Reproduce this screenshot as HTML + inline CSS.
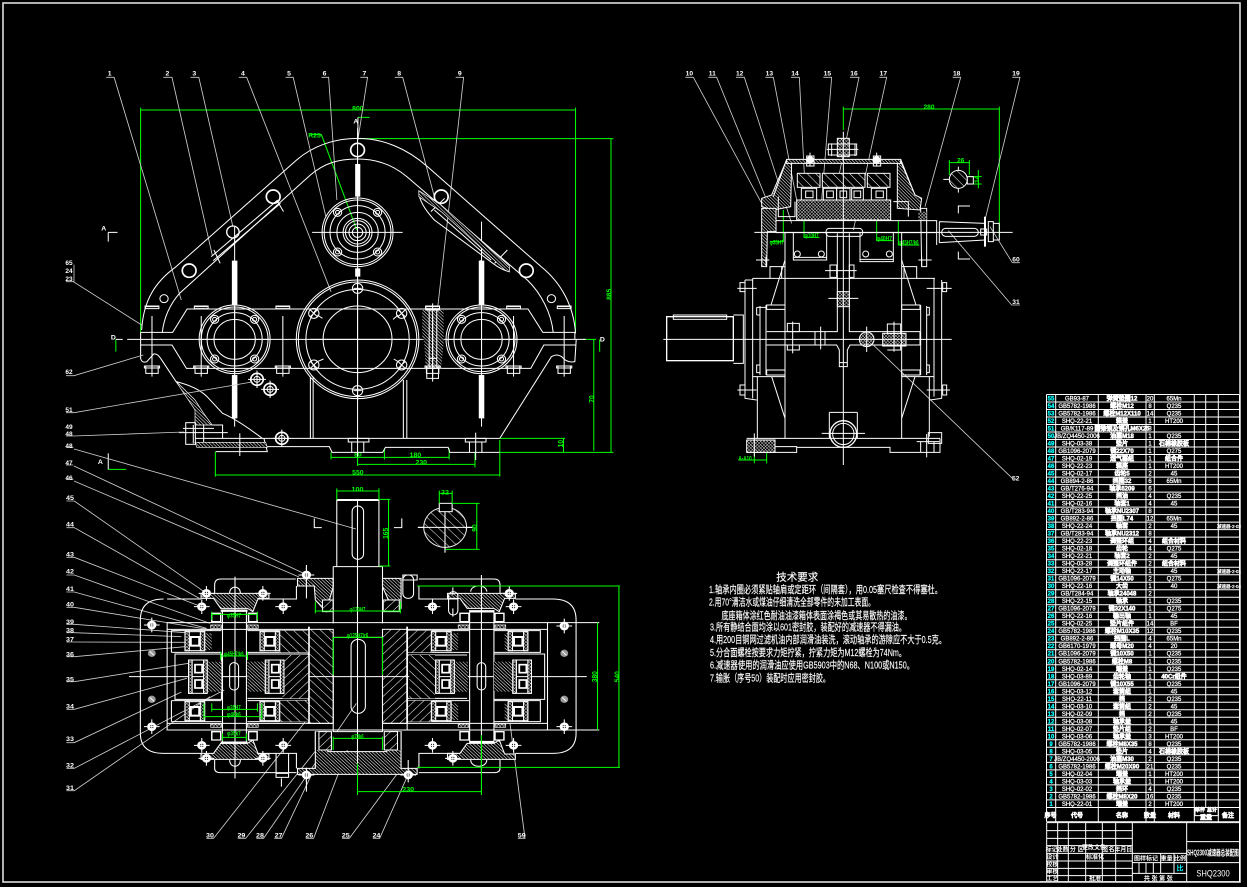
<!DOCTYPE html>
<html><head><meta charset="utf-8"><style>
html,body{margin:0;padding:0;background:#000}
svg{display:block}
.w{fill:none;stroke:#fff;stroke-width:3}
.s{stroke:#fff;stroke-width:3}
.g{fill:none;stroke:#0f0;stroke-width:3}
.l{fill:none;stroke:#ccc;stroke-width:2.5}
.t{font:bold 20px "Liberation Sans","Noto Sans CJK SC",sans-serif;fill:#fff;stroke:none;text-anchor:middle}
.u{font:bold 20px "Liberation Sans","Noto Sans CJK SC",sans-serif;fill:#0f0;stroke:none;text-anchor:middle}
.tb{font:6px "Liberation Sans","WenQuanYi Zen Hei",sans-serif;fill:#fff;stroke:#fff;stroke-width:.25;text-anchor:middle}
.tb .c{fill:#0ff;stroke:#0ff;font-weight:bold}
.tb .b{font-weight:bold;stroke-width:.5}
.r{font:10.5px "Liberation Sans","WenQuanYi Zen Hei",sans-serif;fill:#fff;stroke:#fff;stroke-width:.15}
</style></head><body>
<svg width="1247" height="887" viewBox="0 0 1247 887" xmlns="http://www.w3.org/2000/svg">
<defs>
<pattern id="h1" width="18" height="18" patternUnits="userSpaceOnUse" patternTransform="rotate(45)"><rect width="18" height="18" fill="#000"/><path d="M0 0H18" stroke="#fff" stroke-width="3"/></pattern>
<pattern id="h2" width="18" height="18" patternUnits="userSpaceOnUse" patternTransform="rotate(-45)"><rect width="18" height="18" fill="#000"/><path d="M0 0H18" stroke="#fff" stroke-width="3"/></pattern>
<pattern id="d1" width="7" height="7" patternUnits="userSpaceOnUse" patternTransform="rotate(45)"><rect width="7" height="7" fill="#000"/><path d="M0 0H7" stroke="#fff" stroke-width="3"/></pattern>
<pattern id="x1" width="7" height="7" patternUnits="userSpaceOnUse" patternTransform="rotate(45)"><rect width="7" height="7" fill="#000"/><path d="M0 0H7M0 0V7" stroke="#ddd" stroke-width="2.5"/></pattern>
<g id="cv" class="w"><circle r="103"/><circle r="97"/><circle r="80"/><circle r="60"/>
<g id="cb"><circle cx="-58" cy="-60" r="12"/><circle cx="-58" cy="-60" r="6"/><circle cx="58" cy="-60" r="12"/><circle cx="58" cy="-60" r="6"/><circle cx="-58" cy="59" r="12"/><circle cx="-58" cy="59" r="6"/><circle cx="58" cy="59" r="12"/><circle cx="58" cy="59" r="6"/></g></g>
<g id="fb" class="w"><path d="M0-62V120M-18-90V-90M-18-90H18M-20-92H20V-84H-20ZM-18-84V-84M-18 88H18V110H-18ZM-22 88H22V94H-22Z"/></g>
<g id="nut" class="w"><circle r="18" stroke-width="5"/><circle r="9"/><path d="M-26 0H26M0-26V26"/></g>
<g id="sn"><circle r="11" fill="#999"/><path d="M-6-6L6 6" stroke="#fff" stroke-width="3"/></g>
<g id="bn"><circle r="13" fill="#fff"/><circle r="5" fill="#000"/><path d="M-22 0H22M0-22V22" stroke="#fff" stroke-width="3"/></g>
<g id="br" class="w"><rect width="55" height="57" stroke-width="3"/><rect x="0" y="0" width="12" height="57" fill="url(#x1)"/><rect x="43" y="0" width="12" height="57" fill="url(#x1)"/><rect x="16" y="16" width="24" height="26" stroke-width="6"/></g>
<g id="bd" class="w"><rect width="52" height="100"/><rect width="10" height="100" fill="url(#x1)"/><rect x="42" width="10" height="100" fill="url(#x1)"/><rect x="18" y="14" width="20" height="24" stroke-width="5"/><rect x="18" y="60" width="20" height="24" stroke-width="5"/></g>
</defs>
<rect x="3" y="3" width="1237" height="879" fill="none" stroke="#ddd" stroke-width="1.6"/>

<!-- FRONT VIEW -->
<g transform="translate(90 60) scale(.34435 .33333)">
<g class="g">
<path d="M147 150H1410M147 143V820M1410 143V820M780 236H1520M1513 236V1177M1190 1177H1520M1463 840V1172M1375 1135V1177M1190 1135H1380M1430 838H1470M700 1192H1043M777 1213H1118M364 1245H1190M364 1175V1250M1190 1140V1250M777 1177V1218M1118 1177V1222M700 1177V1198M855 1165V1198M1043 1165V1198M640 224H672L775 510M778 172H812M75 838V875M1480 838V875M53 1228H105"/>
</g>
<text class="u" x="778" y="151">800</text><text class="u" x="652" y="232">R25</text><text class="u" x="1507" y="710" transform="rotate(-90 1507 703)">885</text><text class="u" x="1456" y="1024" transform="rotate(-90 1456 1017)">70</text><text class="u" x="1366" y="1158" transform="rotate(-90 1366 1151)">10</text><text class="u" x="778" y="1190">80</text><text class="u" x="945" y="1191">180</text><text class="u" x="962" y="1214">230</text><text class="u" x="778" y="1244">550</text>
<g class="l"><path d="M47 52H70L265 720M213 52H238L355 585M292 52H316L415 500M432 52H455L700 695M568 52H590L685 470M672 52H693L717 420M785 52H806L778 240M885 52H908L1000 410M1062 52H1085L1010 740"/></g>
<text class="t" x="57" y="47">1</text><text class="t" x="225" y="47">2</text><text class="t" x="303" y="47">3</text><text class="t" x="444" y="47">4</text><text class="t" x="578" y="47">5</text><text class="t" x="681" y="47">6</text><text class="t" x="797" y="47">7</text><text class="t" x="898" y="47">8</text><text class="t" x="1074" y="47">9</text>
<text class="t" x="772" y="190">A</text><text class="t" x="40" y="512">A</text><text class="t" x="68" y="838">D</text><text class="t" x="1488" y="845">D</text><text class="t" x="30" y="1212">A</text>
<g class="w">
<path d="M778 172V235M53 517H80M53 517V545M53 1180V1228M75 838H95"/>
<path d="M150 810C155 720 190 665 250 620L600 300C650 255 715 235 777 235C850 235 920 265 980 320L1310 620C1370 670 1405 740 1410 820"/>
<path d="M210 817C215 770 235 730 260 700L640 345C680 310 720 297 777 297C830 297 880 315 920 350L1270 660C1310 700 1340 760 1345 817"/>
<path d="M108 838H1440"/>
<path d="M147 817H240L282 747H1272L1315 817H1408V838M147 817V838M147 855H238L280 925H1280L1318 855H1410M147 838V895Q150 910 165 905L185 882Q195 880 205 895L250 965Q310 980 340 1010L385 1060Q430 1080 500 1135M1412 838L1408 905Q1385 910 1370 890Q1355 880 1340 890L1190 1135"/>
<path d="M500 1135H1190M305 1135H505L515 1175H365M515 1160H695L703 1177H850L858 1162H1040L1045 1177H1190"/>
<path d="M420 500V1100M1137 485V1100M777 205V1190M645 517H908"/>
<path d="M640 950V1135M648 950V1135M910 960V1135M920 960V1135"/>
<path d="M270 1105H360M300 1095V1150M330 1095V1150M355 1095H385L385 1135"/>
<path d="M352 590L545 420M358 602L553 430"/>
<path d="M955 395Q955 430 1000 480L1170 610Q1195 630 1218 635"/>
<path d="M1000 450L1165 600M545 425L562 455M360 570L378 610M990 455L1030 415M1175 610L1212 570"/>
<path d="M1135 600V735M420 945V1075M777 312V410M777 625V650"/>
</g>
<path d="M412 602H428V735H412ZM412 945H428V1075H412ZM1129 602H1145V735H1129ZM1129 945H1145V1075H1129ZM770 312H785V410H770ZM770 625H785V650H770Z" fill="#fff"/>
<path d="M955 392L1020 435L1218 618V636L1205 630L1020 455L955 410Z" fill="url(#d1)" stroke="#fff" stroke-width="2"/>
<path d="M248 962L305 1050V1095H355L330 1060L305 1020Z" fill="url(#d1)" stroke="#fff" stroke-width="2"/>
<path d="M305 1147H510L515 1162H310Z" fill="url(#d1)" stroke="#fff" stroke-width="2"/>
<rect x="965" y="750" width="62" height="88" fill="url(#d1)"/><path d="M970 838H1028L1020 925H975Z" fill="url(#d1)"/>
<g class="w">
<path d="M985 750V925M1007 750V925M975 738H1015V750H975ZM995 730V965M978 925H1012V955H978ZM985 895H1007"/>
<circle cx="777" cy="270" r="20" stroke-width="5"/><circle cx="532" cy="410" r="20" stroke-width="5"/><circle cx="415" cy="516" r="18" stroke-width="4"/><circle cx="288" cy="632" r="20" stroke-width="5"/><circle cx="215" cy="716" r="12"/><circle cx="1020" cy="410" r="20" stroke-width="5"/><circle cx="1267" cy="632" r="20" stroke-width="5"/><circle cx="1340" cy="716" r="12"/>
<circle cx="777" cy="838" r="178"/><circle cx="777" cy="838" r="172"/><circle cx="777" cy="838" r="150"/><circle cx="777" cy="838" r="100"/>
<path d="M777 660V1020M640 838H920"/>
<circle cx="777" cy="685" r="15"/><circle cx="650" cy="760" r="15"/><circle cx="905" cy="760" r="15"/><circle cx="650" cy="915" r="15"/><circle cx="905" cy="915" r="15"/><circle cx="777" cy="992" r="15"/>
<path d="M640 750L660 770M660 750L640 770M895 750L915 770M915 750L895 770M640 905L660 925M660 905L640 925M895 905L915 925M915 905L895 925M765 685H789M765 992H789M660 765L675 775M895 765L880 778M660 905L678 897M895 905L882 897"/>
</g>
<use href="#cv" x="420" y="838"/><use href="#cv" x="1137" y="838"/><use href="#cv" x="777" y="517"/>
<g class="w"><circle cx="777" cy="517" r="35"/><circle cx="777" cy="517" r="25"/><circle cx="777" cy="517" r="15"/><circle cx="777" cy="517" r="42"/><path d="M420 738V940M318 838H522M1137 738V940M1035 838H1240"/></g>
<use href="#fb" x="180" y="830"/><use href="#fb" x="323" y="830"/><use href="#fb" x="560" y="830"/><use href="#fb" x="1230" y="830"/><use href="#fb" x="1377" y="830"/>
<use href="#fb" x="995" y="830"/>
<use href="#nut" x="485" y="958"/><use href="#nut" x="523" y="988"/><use href="#nut" x="557" y="1135"/>
<g class="w"><rect x="278" y="1088" width="28" height="65"/><path d="M258 1118H400M435 1120V1188M1120 1118V1200M750 1135H810V1146H750ZM1090 1135H1150V1146H1090ZM760 1146V1177M795 1146V1177M1102 1146V1177M1138 1146V1177"/></g>
</g>

<!-- lower-left labels -->
<g class="l" transform="translate(60 250) scale(.33333)">
<path d="M18 95H40L245 225M18 377H42L250 315M18 488H42L576 396M18 558H40L372 546M18 592H40M18 645H40M18 688H40M42 44V95"/>
</g>
<g class="t" style="font-size:6.5px"><text x="69" y="265">65</text><text x="69" y="273">24</text><text x="69" y="281">23</text><text x="69" y="374">62</text><text x="69" y="412">51</text><text x="69" y="429">49</text><text x="69" y="436">48</text><text x="69" y="448">48</text><text x="69" y="465">47</text><text x="69" y="480">46</text></g>
<path d="M74 449L356 529M74 466L303 573M74 481L299 577" stroke="#ccc" stroke-width=".85" fill="none"/>

<!-- SIDE VIEW -->
<g transform="translate(660 60) scale(.33333)">
<g class="g"><path d="M550 147H1018M550 140V210M1018 140V530M868 308H928M868 300V345M928 300V345M925 350H965M925 372H965M955 330V385M370 450V545H330M432 430V532H478M650 385V542H698M715 480V555H778M235 1200H320M283 1170V1210M320 1170V1210"/></g>
<text class="u" x="807" y="147">280</text><text class="u" x="902" y="308">26</text><text class="u" x="950" y="365" transform="rotate(-90 950 358)">14</text><text class="u" x="350" y="553" textLength="42" lengthAdjust="spacingAndGlyphs">φ35H7</text><text class="u" x="455" y="533" textLength="42" lengthAdjust="spacingAndGlyphs">φ10H7</text><text class="u" x="673" y="541" textLength="46" lengthAdjust="spacingAndGlyphs">φ40H7</text><text class="u" x="746" y="553" textLength="60" lengthAdjust="spacingAndGlyphs">φ45H7/k6</text><text class="u" x="255" y="1202" textLength="40" lengthAdjust="spacingAndGlyphs">A-A10</text>
<g class="l"><path d="M76 52H100L305 430M145 52H170L320 420M228 52H253L395 490M316 52H340L410 420M393 52H418L437 420M490 52H515L485 420M570 52H597L530 380M658 52H680L580 510M878 52H902L795 440M1057 52H1080L975 480M1057 608H1080V608M1057 608L990 500M1080 735H1055L865 512M1060 1258L640 855"/></g>
<g><text class="t" x="88" y="47">10</text><text class="t" x="157" y="47">11</text><text class="t" x="239" y="47">12</text><text class="t" x="328" y="47">13</text><text class="t" x="405" y="47">14</text><text class="t" x="502" y="47">15</text><text class="t" x="582" y="47">16</text><text class="t" x="670" y="47">17</text><text class="t" x="890" y="47">18</text><text class="t" x="1068" y="47">19</text><text class="t" x="1068" y="604">60</text><text class="t" x="1068" y="732">31</text><text class="t" x="1067" y="1262">52</text></g>
<path d="M378 304H395L392 440L340 450L305 440V415L335 405Z" fill="url(#d1)" stroke="#fff" stroke-width="3"/>
<path d="M722 304H712V445L780 450L785 415L765 405Z" fill="url(#d1)" stroke="#fff" stroke-width="3"/>
<path d="M380 298H722V310H380Z" fill="url(#d1)" stroke="#fff" stroke-width="3"/>
<rect x="412" y="340" width="68" height="42" fill="url(#h1)" class="s"/><rect x="487" y="340" width="128" height="42" fill="url(#h1)" class="s"/><rect x="622" y="340" width="68" height="42" fill="url(#h1)" class="s"/>
<rect x="410" y="420" width="282" height="60" fill="url(#x1)" class="s"/>
<rect x="424" y="385" width="46" height="35" class="s" fill="#000"/><rect x="490" y="385" width="40" height="35" class="s" fill="#000"/><rect x="530" y="385" width="40" height="35" class="s" fill="#000"/><rect x="575" y="385" width="35" height="35" class="s" fill="#000"/><rect x="634" y="385" width="46" height="35" class="s" fill="#000"/>
<rect x="437" y="393" width="22" height="20" class="w" stroke-width="5"/><rect x="500" y="393" width="20" height="20" class="w"/><rect x="540" y="393" width="20" height="20" class="w"/><rect x="582" y="393" width="20" height="20" class="w"/><rect x="648" y="393" width="22" height="20" class="w"/>
<path d="M305 445H348V515H322L320 620H305Z" fill="url(#d1)" stroke="#fff" stroke-width="3"/>
<path d="M782 445H800V620H785Z" fill="#000" stroke="#fff" stroke-width="3"/>
<rect x="532" y="235" width="36" height="55" fill="url(#x1)" class="s"/>
<rect x="532" y="695" width="36" height="45" fill="url(#x1)" class="s"/>
<circle cx="620" cy="838" r="22" fill="url(#x1)" class="s"/>
<rect x="668" y="820" width="70" height="38" fill="url(#x1)" class="s"/>
<rect x="260" y="1140" width="85" height="37" fill="url(#x1)" class="s"/>
<rect x="775" y="455" width="25" height="25" fill="url(#x1)"/>
<g class="w">
<path d="M283 517H1058M550 215V1215M10 838H875"/>
<path d="M347 482H830V555M347 518H830M838 485L975 490M838 548L975 540M838 485V548M348 480V517M380 298L340 410M722 298L765 405M355 410V470H405V425M745 470V425H700"/>
<rect x="845" y="505" width="110" height="24" rx="12"/>
<rect x="498" y="505" width="110" height="24" rx="10"/>
<path d="M975 470V560" stroke-width="6"/><path d="M985 485H1000V545H985ZM1000 490H1018V540H1000ZM962 507H980V525H962Z"/>
<path d="M505 252H590V285H505ZM515 250V288M585 250V288M500 268H595M440 288H462V318H440ZM640 288H662V318H640ZM450 278V320M650 278V320"/>
<circle cx="450" cy="300" r="10" fill="#fff"/><circle cx="650" cy="300" r="10" fill="#fff"/>
<path d="M375 518V1135M725 518V1135M400 518V600H500V518M600 518V605H700V518M400 592H500M600 598H700"/>
<circle cx="412" cy="582" r="9"/><circle cx="484" cy="582" r="9"/><circle cx="617" cy="582" r="9"/><circle cx="688" cy="582" r="9"/>
<path d="M532 520V815H320M568 520V815H780M320 855H530L538 870V920H562V870L570 855H780M538 908H562"/>
<rect x="20" y="770" width="200" height="132" stroke-width="4"/><rect x="40" y="765" width="160" height="13"/>
<path d="M220 765H250V910H220M278 655H825M278 655V1015M255 660H278M255 660V1015L290 1020M292 950V1135M278 950H375M318 735V945M300 738V945M290 742H318M290 765H300M290 742V765M290 915H300V938H290Z"/>
<path d="M330 620H375M330 620V655M365 620V655M725 620H770V655M732 620V655M288 600H328M318 590V618M775 600H815M785 590V618M232 685H290M240 668H255V695H240ZM800 685H875M848 668H860V695H848ZM232 990H290M240 975H255V1005H240ZM800 990H870M848 975H860V1005H848Z"/>
<path d="M375 600L333 735M725 600L768 735M335 950L375 1075M765 950L725 1075"/>
<path d="M320 735H375V748H320ZM725 735H780V748H725ZM320 930H375V945H320ZM725 930H780V945H725Z"/>
<path d="M782 735V945M800 738V945M822 655V1010M845 660V1015L810 1020M808 950V1130M725 950H822M800 742H808V765H800M800 915H808V938H800M318 815V855M780 815V855"/>
<path d="M260 1135H840M345 1160H410V1177H260M410 1162H690V1177H840V1135M805 1118H845V1150H805ZM800 1122V1192M770 1145H838M782 1145V1177M822 1145V1177M283 1120V1190"/>
<path d="M508 1057H592M508 1057V1135M592 1057V1135M485 1120H615"/>
<circle cx="550" cy="1122" r="40" stroke-width="4"/><circle cx="550" cy="1122" r="32"/>
<path d="M382 790H418V815H382ZM398 785V880M382 855H418V870H382ZM465 815V855M495 815V855M482 800V868M682 792H722V820H682ZM702 785V875M682 858H722V870H682M620 800V876"/>
<path d="M510 615H530V652H510ZM495 632H590M568 615H582V652H568ZM505 715H595M330 618V620"/>
<path d="M895 460V438H930M895 575V597H930"/>
<path d="M850 358H940M895 320V398"/>
</g>
<circle cx="895" cy="358" r="27" fill="url(#h1)" stroke="#fff" stroke-width="3"/>
<rect x="922" y="350" width="18" height="22" fill="#000" stroke="#fff" stroke-width="3"/>
</g>

<!-- PLAN VIEW -->
<g transform="translate(60 480) scale(.35714 .33333)">
<g class="l"><path d="M18 63H40L410 340M18 143H40L390 355M18 232H40L395 380M18 285H40L420 430M18 336H40L410 445M18 382H40L425 450M18 433H40L350 458M18 458H40L340 470M18 486H40L350 487M18 530H40L350 500M18 605H40L360 550M18 688H40L355 595M18 788H40L340 636M18 865H40L460 630M18 932H40L420 650M410 1075H430L720 680M498 1075H520L740 780M550 1075H570L830 670M600 1075H620L750 780M688 1075H710L810 795M790 1075H810L945 880M876 1075H895L970 895M1282 1075H1302L1260 730"/></g>
<g>
<text class="t" x="28" y="60">45</text><text class="t" x="28" y="140">44</text><text class="t" x="28" y="229">43</text><text class="t" x="28" y="281">42</text><text class="t" x="28" y="333">41</text><text class="t" x="28" y="379">40</text><text class="t" x="28" y="432">39</text><text class="t" x="28" y="457">38</text><text class="t" x="28" y="484">37</text><text class="t" x="28" y="530">36</text><text class="t" x="28" y="604">35</text><text class="t" x="28" y="685">34</text><text class="t" x="28" y="783">33</text><text class="t" x="28" y="862">32</text><text class="t" x="28" y="930">31</text>
<text class="t" x="420" y="1072">30</text><text class="t" x="508" y="1072">29</text><text class="t" x="560" y="1072">28</text><text class="t" x="612" y="1072">27</text><text class="t" x="698" y="1072">26</text><text class="t" x="800" y="1072">25</text><text class="t" x="886" y="1072">24</text><text class="t" x="1293" y="1072">59</text>
</g>
<path d="M395 340H585V355H555L540 395L525 385H450L430 355H395Z" fill="url(#d1)" stroke="#fff" stroke-width="3"/>
<path d="M395 838H585V822H555L540 780L525 790H450L430 820H395Z" fill="url(#d1)" stroke="#fff" stroke-width="3"/>
<path d="M1085 340H1275V355H1245L1230 395L1215 385H1140L1120 355H1085Z" fill="url(#d1)" stroke="#fff" stroke-width="3"/>
<path d="M1085 838H1275V822H1245L1230 780L1215 790H1140L1120 820H1085Z" fill="url(#d1)" stroke="#fff" stroke-width="3"/>
<path d="M665 295H765V320L745 395L715 360L712 318H665Z" fill="url(#d1)" stroke="#fff" stroke-width="3"/>
<path d="M903 295H955V385L930 385L903 320Z" fill="url(#d1)" stroke="#fff" stroke-width="3"/>
<path d="M665 865H715V755H745L750 815H915L925 755H955V865H1000V883H665Z" fill="url(#d1)" stroke="#fff" stroke-width="3"/>
<rect x="715" y="755" width="240" height="55" fill="#000"/>
<path d="M735 360H765V395H735ZM905 360H950V395H905ZM725 755H760V810H725ZM908 755H945V810H908Z" fill="url(#h2)" stroke="#fff" stroke-width="3"/>
<rect x="695" y="448" width="70" height="282" fill="url(#h1)" class="s"/><rect x="903" y="448" width="69" height="282" fill="url(#h2)" class="s"/>
<g class="w">
<path d="M193 590H1475M833 60V885M490 290V895M1180 285V885"/>
<path d="M775 260V60H893V260" /><path d="M775 60H893" stroke-width="6"/>
<rect x="818" y="78" width="32" height="160" rx="16"/>
<path d="M765 260H903M765 260V430M903 260V430M1002 142H1155M1078 72V218"/>
<path d="M712 115V143H733M957 115V143H935"/>
<path d="M300 357H395M225 420Q225 357 290 357M225 420V760Q225 820 290 820H395M1445 420Q1445 357 1380 357H1275M1445 420V760Q1445 820 1380 820H1275M555 357H662V318M1005 318V357H1115M555 820H662V865M1005 865V820H1115"/>
<path d="M433 340V315Q433 297 450 297H660M1005 297H1215Q1232 297 1232 315V340M433 840V865Q433 878 450 878H662M1005 878H1215Q1232 878 1232 865V840"/>
<path d="M300 428H1365V750H300ZM300 448H695M970 448H1365M300 730H695M970 730H1365M1365 428H1510M1365 750H1510"/>
<path d="M312 452H452M312 517H452M312 452V517M312 662H452M312 725H452M312 662V725M322 522H452V658H322ZM525 452H692M525 517H692M525 662H692M525 725H692M525 522H695M525 655H695M972 452H1145M972 517H1145M972 525H1140M972 655H1140M972 662H1145M972 725H1145M1215 452H1345V517H1215M1215 662H1345V725H1215M1215 522H1357V658H1215"/>
<path d="M765 472H903M765 730V755H903V730M765 470V730M903 470V730M695 730H765V750H695M903 730H972V750H903M715 755V810M955 755V810"/>
<path d="M455 390V790M522 390V790M1147 390V790M1215 390V790"/>
<rect x="475" y="548" width="25" height="82" rx="12"/><rect x="1168" y="548" width="24" height="82" rx="12"/><rect x="815" y="478" width="40" height="222" rx="20"/>
<path d="M450 392H525" stroke-width="7"/><path d="M450 788H525" stroke-width="7"/><path d="M1147 394H1215" stroke-width="7"/><path d="M1147 786H1215" stroke-width="7"/>
<path d="M697 440V730" stroke-width="5"/><path d="M972 440V730" stroke-width="5"/>
<path d="M475 340C475 315 505 315 505 340M1150 335C1150 312 1195 312 1195 335M475 840C475 865 505 865 505 840M1150 840C1150 865 1195 865 1195 840"/>
<path d="M605 820V880H640V820M605 880V892H640V880M620 895V920M690 885V935M975 840V895M690 255V355"/>
<rect x="960" y="285" width="30" height="70" rx="14"/><path d="M960 285H1000V300H960Z"/>
<rect x="1088" y="335" width="26" height="70" rx="13"/><path d="M1100 322V345M1100 385V410"/>
</g>
<path d="M1078 82A60 60 0 1 0 1079 82" fill="url(#h1)" stroke="#fff" stroke-width="3" opacity=".9"/>
<path d="M1002 142H1155M1078 72V218" stroke="#fff" stroke-width="3"/>
<rect x="1062" y="70" width="36" height="25" fill="#000" stroke="#fff" stroke-width="3"/>
<g>
<rect x="615" y="452" width="80" height="65" fill="url(#h1)"/><rect x="623" y="525" width="72" height="130" fill="url(#h2)"/><rect x="615" y="662" width="80" height="63" fill="url(#h1)"/>
<rect x="975" y="452" width="65" height="65" fill="url(#h2)"/><rect x="978" y="525" width="72" height="130" fill="url(#h1)"/><rect x="975" y="662" width="65" height="63" fill="url(#h2)"/>
<rect x="410" y="545" width="42" height="90" fill="url(#d1)"/><rect x="525" y="545" width="50" height="90" fill="url(#d1)"/><rect x="1100" y="545" width="42" height="90" fill="url(#d1)"/><rect x="1215" y="545" width="52" height="90" fill="url(#d1)"/>
<rect x="405" y="460" width="20" height="50" fill="url(#d1)"/><rect x="1095" y="460" width="20" height="50" fill="url(#d1)"/><rect x="1245" y="460" width="15" height="50" fill="url(#d1)"/><rect x="1095" y="670" width="20" height="50" fill="url(#d1)"/><rect x="1245" y="670" width="15" height="50" fill="url(#d1)"/>
</g>
<use href="#br" x="350" y="455"/><use href="#br" x="560" y="455"/><use href="#br" x="350" y="665"/><use href="#br" x="560" y="665"/>
<use href="#br" x="1040" y="455"/><use href="#br" x="1255" y="455"/><use href="#br" x="1040" y="665"/><use href="#br" x="1255" y="665"/>
<use href="#bd" x="360" y="540"/><use href="#bd" x="575" y="540"/><use href="#bd" x="1052" y="540"/><use href="#bd" x="1268" y="540"/>
<path d="M422 435H452V445H422ZM525 435H555V445H525ZM422 732H452V742H422ZM525 732H555V742H525ZM1115 435H1145V445H1115ZM1218 435H1248V445H1218ZM1115 732H1145V742H1115ZM1218 732H1248V742H1218Z" fill="url(#x1)" stroke="#fff" stroke-width="2"/>
<path d="M425 400H450V425H425ZM528 400H552V425H528ZM425 755H450V780H425ZM528 755H552V780H528ZM1120 400H1145V425H1120ZM1218 400H1243V425H1218ZM1120 755H1145V780H1120ZM1218 755H1243V780H1218Z" fill="#000" stroke="#fff" stroke-width="4"/>
<use href="#bn" x="397" y="380"/><use href="#bn" x="397" y="796"/><use href="#bn" x="625" y="380"/><use href="#bn" x="625" y="796"/><use href="#bn" x="1043" y="380"/><use href="#bn" x="1043" y="796"/><use href="#bn" x="1270" y="380"/><use href="#bn" x="1270" y="796"/><use href="#bn" x="257" y="435"/><use href="#bn" x="257" y="740"/><use href="#bn" x="1412" y="438"/><use href="#bn" x="1412" y="740"/>
<use href="#sn" x="257" y="520"/><use href="#sn" x="257" y="658"/><use href="#sn" x="1412" y="520"/><use href="#sn" x="1412" y="658"/>
<use href="#bn" x="410" y="340"/><use href="#bn" x="568" y="340"/><use href="#bn" x="690" y="285"/><use href="#bn" x="1100" y="835"/><use href="#bn" x="1258" y="340"/><use href="#bn" x="410" y="835"/><use href="#bn" x="568" y="835"/><use href="#bn" x="690" y="885"/><use href="#bn" x="975" y="885"/>
<g class="g"><path d="M775 33H893M775 25V60M893 25V60M893 58H925M893 258H925M920 58V258M1062 40H1098M1062 32V70M1098 32V70M1098 70H1175M1080 208H1175M1167 70V208M425 403H553M425 395V420M553 395V420M450 528H525M450 515V540M525 515V540M715 393H953M715 365V400M953 365V400M765 472V585M903 472V585M765 472H903M425 688H553M425 670V695M553 670V695M403 710H565M403 670V718M565 670V718M455 772H522M455 760V782M522 760V782M765 775H903M765 770V810M903 770V810M833 935H1180M833 850V945M1180 765V945M1000 318H1568M1000 862H1568M1565 318V862M1505 428V750"/></g>
<g>
<text class="u" x="833" y="35">100</text><text class="u" x="912" y="167" transform="rotate(-90 912 160)">165</text><text class="u" x="1078" y="43">32</text><text class="u" x="1160" y="151" transform="rotate(-90 1160 144)">90</text>
<text class="u" x="487" y="413" textLength="40" lengthAdjust="spacingAndGlyphs">φ35H7</text><text class="u" x="487" y="528" textLength="55" lengthAdjust="spacingAndGlyphs">φ45H7/k6</text><text class="u" x="833" y="394" textLength="44" lengthAdjust="spacingAndGlyphs">φ130H7</text><text class="u" x="833" y="472" textLength="60" lengthAdjust="spacingAndGlyphs">φ125H7/r6</text>
<text class="u" x="487" y="688" textLength="38" lengthAdjust="spacingAndGlyphs">φ35H7</text><text class="u" x="487" y="710" textLength="38" lengthAdjust="spacingAndGlyphs">φ40k6</text><text class="u" x="487" y="767" textLength="38" lengthAdjust="spacingAndGlyphs">φ35k7</text><text class="u" x="833" y="775" textLength="34" lengthAdjust="spacingAndGlyphs">φ70k6</text><text class="u" x="975" y="934">230</text>
<text class="u" x="1497" y="597" transform="rotate(-90 1497 590)">380</text><text class="u" x="1560" y="597" transform="rotate(-90 1560 590)">540</text>
</g>
</g>

<!-- TECH REQUIREMENTS -->
<g class="r">
<text x="797.3" y="580.5" text-anchor="middle">技术要求</text>
<text x="709" y="593" textLength="233" lengthAdjust="spacingAndGlyphs">1.轴承内圈必须紧贴轴肩或定距环（间隔套），用0.05塞尺检查不得塞杜。</text>
<text x="709" y="605.5" textLength="166" lengthAdjust="spacingAndGlyphs">2.用70°清洁水或煤油仔细清洗全部零件的未加工表面。</text>
<text x="721.5" y="619" textLength="190" lengthAdjust="spacingAndGlyphs">底座箱体涂红色耐油油漆箱体表面涂褐色或其易散热的油漆。</text>
<text x="710" y="630.5" textLength="196" lengthAdjust="spacingAndGlyphs">3.所有静结合面均涂以601密封胶，装配好的减速器不得漏油。</text>
<text x="710" y="643" textLength="236" lengthAdjust="spacingAndGlyphs">4.用200目铜网过滤机油内部润滑油装洗，滚动轴承的游隙应不大于0.5克。</text>
<text x="710" y="656" textLength="196" lengthAdjust="spacingAndGlyphs">5.分合面螺栓按要求力矩拧紧，拧紧力矩为M12螺栓为74Nm。</text>
<text x="710" y="668.5" textLength="204" lengthAdjust="spacingAndGlyphs">6.减速器使用的润滑油应使用GB5903中的N68、N100或N150。</text>
<text x="710" y="681.5" textLength="120" lengthAdjust="spacingAndGlyphs">7.输胀（序号50）装配时应用密封胶。</text>
</g>

<!-- PARTS TABLE -->
<path fill="none" stroke="#fff" stroke-width="1" d="M1046.5 394.5V821.5M1055.7 394.5V821.5M1098.3 394.5V821.5M1146 394.5V821.5M1154.3 394.5V821.5M1194.3 394.5V821.5M1205.7 394.5V807.5M1218.3 394.5V821.5M1239.5 394.5V882M1046.5 394.5H1239M1046 402H1239M1046 409.5H1239M1046 417H1239M1046 424.5H1239M1046 432H1239M1046 439.5H1239M1046 447H1239M1046 454.5H1239M1046 462H1239M1046 469.6H1239M1046 477.1H1239M1046 484.6H1239M1046 492.1H1239M1046 499.6H1239M1046 507.1H1239M1046 514.6H1239M1046 522.1H1239M1046 529.6H1239M1046 537.1H1239M1046 544.6H1239M1046 552.1H1239M1046 559.7H1239M1046 567.2H1239M1046 574.7H1239M1046 582.2H1239M1046 589.7H1239M1046 597.2H1239M1046 604.7H1239M1046 612.2H1239M1046 619.7H1239M1046 627.2H1239M1046 634.7H1239M1046 642.2H1239M1046 649.7H1239M1046 657.3H1239M1046 664.8H1239M1046 672.3H1239M1046 679.8H1239M1046 687.3H1239M1046 694.8H1239M1046 702.3H1239M1046 709.8H1239M1046 717.3H1239M1046 724.8H1239M1046 732.3H1239M1046 739.8H1239M1046 747.3H1239M1046 754.8H1239M1046 762.4H1239M1046 769.9H1239M1046 777.4H1239M1046 784.9H1239M1046 792.4H1239M1046 799.9H1239M1046 807.5H1239M1046.5 821.7H1239"/>
<g class="tb">
<text y="400.5"><tspan x="1051" class="c">55</tspan><tspan x="1077">GB93-87</tspan><tspan x="1122" class="b">弹簧垫圈12</tspan><tspan x="1150">20</tspan><tspan x="1174">65Mn</tspan></text>
<text y="408"><tspan x="1051" class="c">54</tspan><tspan x="1077">GB5782-1986</tspan><tspan x="1122" class="b">螺栓M12</tspan><tspan x="1150">8</tspan><tspan x="1174">Q235</tspan></text>
<text y="415.5"><tspan x="1051" class="c">53</tspan><tspan x="1077">GB5782-1986</tspan><tspan x="1122" class="b">螺栓M12X110</tspan><tspan x="1150">14</tspan><tspan x="1174">Q235</tspan></text>
<text y="423"><tspan x="1051" class="c">52</tspan><tspan x="1077">SHQ-22-21</tspan><tspan x="1122" class="b">箱盖</tspan><tspan x="1150">1</tspan><tspan x="1174">HT200</tspan></text>
<text y="430.5"><tspan x="1051" class="c">51</tspan><tspan x="1077">GB/K117-89</tspan><tspan x="1122" class="b">圆锥销及销孔M6X25</tspan><tspan x="1150">3</tspan></text>
<text y="438"><tspan x="1051" class="c">50</tspan><tspan x="1077">JB/ZQ4450-2006</tspan><tspan x="1122" class="b">油塞M18</tspan><tspan x="1150">1</tspan><tspan x="1174">Q235</tspan></text>
<text y="445.5"><tspan x="1051" class="c">49</tspan><tspan x="1077">SHQ-03-38</tspan><tspan x="1122" class="b">垫片</tspan><tspan x="1150">1</tspan><tspan x="1174" class="b">石棉橡胶板</tspan></text>
<text y="453"><tspan x="1051" class="c">48</tspan><tspan x="1077">GB1096-2079</tspan><tspan x="1122" class="b">键22X70</tspan><tspan x="1150">1</tspan><tspan x="1174">Q275</tspan></text>
<text y="460.5"><tspan x="1051" class="c">47</tspan><tspan x="1077">SHQ-02-19</tspan><tspan x="1122" class="b">透气塞组</tspan><tspan x="1150">1</tspan><tspan x="1174" class="b">组合件</tspan></text>
<text y="468"><tspan x="1051" class="c">46</tspan><tspan x="1077">SHQ-22-23</tspan><tspan x="1122" class="b">箱座</tspan><tspan x="1150">1</tspan><tspan x="1174">HT200</tspan></text>
<text y="475.6"><tspan x="1051" class="c">45</tspan><tspan x="1077">SHQ-02-17</tspan><tspan x="1122" class="b">齿轮5</tspan><tspan x="1150">2</tspan><tspan x="1174">45</tspan></text>
<text y="483.1"><tspan x="1051" class="c">44</tspan><tspan x="1077">GB894-2-86</tspan><tspan x="1122" class="b">挡圈32</tspan><tspan x="1150">6</tspan><tspan x="1174">65Mn</tspan></text>
<text y="490.6"><tspan x="1051" class="c">43</tspan><tspan x="1077">GB/T276-94</tspan><tspan x="1122" class="b">轴承6209</tspan><tspan x="1150">6</tspan></text>
<text y="498.1"><tspan x="1051" class="c">42</tspan><tspan x="1077">SHQ-22-25</tspan><tspan x="1122" class="b">挡油</tspan><tspan x="1150">4</tspan><tspan x="1174">Q235</tspan></text>
<text y="505.6"><tspan x="1051" class="c">41</tspan><tspan x="1077">SHQ-02-16</tspan><tspan x="1122" class="b">轴套1</tspan><tspan x="1150">4</tspan><tspan x="1174">45</tspan></text>
<text y="513.1"><tspan x="1051" class="c">40</tspan><tspan x="1077">GB/T283-94</tspan><tspan x="1122" class="b">轴承NU2307</tspan><tspan x="1150">8</tspan></text>
<text y="520.6"><tspan x="1051" class="c">39</tspan><tspan x="1077">GB892-2-86</tspan><tspan x="1122" class="b">挡圈L74</tspan><tspan x="1150">12</tspan><tspan x="1174">65Mn</tspan></text>
<text y="528.1"><tspan x="1051" class="c">38</tspan><tspan x="1077">SHQ-22-24</tspan><tspan x="1122" class="b">轴套</tspan><tspan x="1150">2</tspan><tspan x="1174">45</tspan><tspan x="1229" style="font-size:4.5px">减速器-2-02</tspan></text>
<text y="535.6"><tspan x="1051" class="c">37</tspan><tspan x="1077">GB/T283-94</tspan><tspan x="1122" class="b">轴承NU2312</tspan><tspan x="1150">8</tspan></text>
<text y="543.1"><tspan x="1051" class="c">36</tspan><tspan x="1077">SHQ-22-23</tspan><tspan x="1122" class="b">调整环组</tspan><tspan x="1150">4</tspan><tspan x="1174" class="b">组合材料</tspan></text>
<text y="550.6"><tspan x="1051" class="c">35</tspan><tspan x="1077">SHQ-02-18</tspan><tspan x="1122" class="b">齿轮</tspan><tspan x="1150">4</tspan><tspan x="1174">Q275</tspan></text>
<text y="558.1"><tspan x="1051" class="c">34</tspan><tspan x="1077">SHQ-22-21</tspan><tspan x="1122" class="b">轴套2</tspan><tspan x="1150">2</tspan><tspan x="1174">45</tspan></text>
<text y="565.7"><tspan x="1051" class="c">33</tspan><tspan x="1077">SHQ-03-28</tspan><tspan x="1122" class="b">调整环组件</tspan><tspan x="1150">2</tspan><tspan x="1174" class="b">组合材料</tspan></text>
<text y="573.2"><tspan x="1051" class="c">32</tspan><tspan x="1077">SHQ-22-17</tspan><tspan x="1122" class="b">主动轴</tspan><tspan x="1150">1</tspan><tspan x="1174">45</tspan><tspan x="1229" style="font-size:4.5px">减速器-2-01</tspan></text>
<text y="580.7"><tspan x="1051" class="c">31</tspan><tspan x="1077">GB1096-2079</tspan><tspan x="1122" class="b">键14X50</tspan><tspan x="1150">2</tspan><tspan x="1174">Q275</tspan></text>
<text y="588.2"><tspan x="1051" class="c">30</tspan><tspan x="1077">SHQ-22-16</tspan><tspan x="1122" class="b">大齿</tspan><tspan x="1150">1</tspan><tspan x="1174">40</tspan><tspan x="1229" style="font-size:4.5px">减速器-2-04</tspan></text>
<text y="595.7"><tspan x="1051" class="c">29</tspan><tspan x="1077">GB/T284-94</tspan><tspan x="1122" class="b">轴承24048</tspan><tspan x="1150">2</tspan></text>
<text y="603.2"><tspan x="1051" class="c">28</tspan><tspan x="1077">SHQ-22-15</tspan><tspan x="1122" class="b">轴承</tspan><tspan x="1150">1</tspan><tspan x="1174">Q235</tspan></text>
<text y="610.7"><tspan x="1051" class="c">27</tspan><tspan x="1077">GB1096-2079</tspan><tspan x="1122" class="b">键32X140</tspan><tspan x="1150">1</tspan><tspan x="1174">Q275</tspan></text>
<text y="618.2"><tspan x="1051" class="c">26</tspan><tspan x="1077">SHQ-22-16</tspan><tspan x="1122" class="b">输出轴</tspan><tspan x="1150">1</tspan><tspan x="1174">45</tspan></text>
<text y="625.7"><tspan x="1051" class="c">25</tspan><tspan x="1077">SHQ-02-25</tspan><tspan x="1122" class="b">垫片组件</tspan><tspan x="1150">14</tspan><tspan x="1174">BF</tspan></text>
<text y="633.2"><tspan x="1051" class="c">24</tspan><tspan x="1077">GB5782-1986</tspan><tspan x="1122" class="b">螺栓M10X35</tspan><tspan x="1150">12</tspan><tspan x="1174">Q235</tspan></text>
<text y="640.7"><tspan x="1051" class="c">23</tspan><tspan x="1077">GB892-2-86</tspan><tspan x="1122" class="b">挡圈L</tspan><tspan x="1150">4</tspan><tspan x="1174">65Mn</tspan></text>
<text y="648.2"><tspan x="1051" class="c">22</tspan><tspan x="1077">GB6170-1979</tspan><tspan x="1122" class="b">螺母M20</tspan><tspan x="1150">4</tspan><tspan x="1174">20</tspan></text>
<text y="655.7"><tspan x="1051" class="c">21</tspan><tspan x="1077">GB1096-2079</tspan><tspan x="1122" class="b">键10X50</tspan><tspan x="1150">1</tspan><tspan x="1174">Q235</tspan></text>
<text y="663.3"><tspan x="1051" class="c">20</tspan><tspan x="1077">GB5782-1986</tspan><tspan x="1122" class="b">螺栓M8</tspan><tspan x="1150">1</tspan><tspan x="1174">Q235</tspan></text>
<text y="670.8"><tspan x="1051" class="c">19</tspan><tspan x="1077">SHQ-02-14</tspan><tspan x="1122" class="b">端盖</tspan><tspan x="1150">1</tspan><tspan x="1174">Q235</tspan></text>
<text y="678.3"><tspan x="1051" class="c">18</tspan><tspan x="1077">SHQ-03-89</tspan><tspan x="1122" class="b">齿轮轴</tspan><tspan x="1150">1</tspan><tspan x="1174" class="b">40Cr组件</tspan></text>
<text y="685.8"><tspan x="1051" class="c">17</tspan><tspan x="1077">GB1096-2079</tspan><tspan x="1122" class="b">键10X55</tspan><tspan x="1150">1</tspan><tspan x="1174">Q235</tspan></text>
<text y="693.3"><tspan x="1051" class="c">16</tspan><tspan x="1077">SHQ-03-12</tspan><tspan x="1122" class="b">套筒组</tspan><tspan x="1150">1</tspan><tspan x="1174">45</tspan></text>
<text y="700.8"><tspan x="1051" class="c">15</tspan><tspan x="1077">SHQ-22-11</tspan><tspan x="1122" class="b">挡</tspan><tspan x="1150">2</tspan><tspan x="1174">Q235</tspan></text>
<text y="708.3"><tspan x="1051" class="c">14</tspan><tspan x="1077">SHQ-03-10</tspan><tspan x="1122" class="b">套筒组</tspan><tspan x="1150">2</tspan><tspan x="1174">45</tspan></text>
<text y="715.8"><tspan x="1051" class="c">13</tspan><tspan x="1077">SHQ-02-09</tspan><tspan x="1122" class="b">挡</tspan><tspan x="1150">2</tspan><tspan x="1174">Q235</tspan></text>
<text y="723.3"><tspan x="1051" class="c">12</tspan><tspan x="1077">SHQ-03-08</tspan><tspan x="1122" class="b">轴承盖</tspan><tspan x="1150">1</tspan><tspan x="1174">45</tspan></text>
<text y="730.8"><tspan x="1051" class="c">11</tspan><tspan x="1077">SHQ-02-07</tspan><tspan x="1122" class="b">垫片组</tspan><tspan x="1150">2</tspan><tspan x="1174">BF</tspan></text>
<text y="738.3"><tspan x="1051" class="c">10</tspan><tspan x="1077">SHQ-03-06</tspan><tspan x="1122" class="b">轴承盖</tspan><tspan x="1150">3</tspan><tspan x="1174">HT200</tspan></text>
<text y="745.8"><tspan x="1051" class="c">9</tspan><tspan x="1077">GB5782-1986</tspan><tspan x="1122" class="b">螺栓M8X35</tspan><tspan x="1150">8</tspan><tspan x="1174">Q235</tspan></text>
<text y="753.3"><tspan x="1051" class="c">8</tspan><tspan x="1077">SHQ-03-05</tspan><tspan x="1122" class="b">垫片</tspan><tspan x="1150">4</tspan><tspan x="1174" class="b">石棉橡胶板</tspan></text>
<text y="760.8"><tspan x="1051" class="c">7</tspan><tspan x="1077">JB/ZQ4450-2006</tspan><tspan x="1122" class="b">油塞M30</tspan><tspan x="1150">2</tspan><tspan x="1174">Q235</tspan></text>
<text y="768.4"><tspan x="1051" class="c">6</tspan><tspan x="1077">GB5782-1986</tspan><tspan x="1122" class="b">螺栓M20X90</tspan><tspan x="1150">21</tspan><tspan x="1174">Q235</tspan></text>
<text y="775.9"><tspan x="1051" class="c">5</tspan><tspan x="1077">SHQ-02-04</tspan><tspan x="1122" class="b">端盖</tspan><tspan x="1150">1</tspan><tspan x="1174">HT200</tspan></text>
<text y="783.4"><tspan x="1051" class="c">4</tspan><tspan x="1077">SHQ-03-03</tspan><tspan x="1122" class="b">轴承盖</tspan><tspan x="1150">1</tspan><tspan x="1174">HT200</tspan></text>
<text y="790.9"><tspan x="1051" class="c">3</tspan><tspan x="1077">SHQ-02-02</tspan><tspan x="1122" class="b">挡环</tspan><tspan x="1150">4</tspan><tspan x="1174">Q235</tspan></text>
<text y="798.4"><tspan x="1051" class="c">2</tspan><tspan x="1077">GB5782-1986</tspan><tspan x="1122" class="b">螺栓M8X20</tspan><tspan x="1150">16</tspan><tspan x="1174">Q235</tspan></text>
<text y="805.9"><tspan x="1051" class="c">1</tspan><tspan x="1077">SHQ-22-01</tspan><tspan x="1122" class="b">端盖</tspan><tspan x="1150">2</tspan><tspan x="1174">HT200</tspan></text>
<text y="817.5"><tspan x="1050.5" class="b">序号</tspan><tspan x="1077" class="b">代号</tspan><tspan x="1122" class="b">名称</tspan><tspan x="1150" class="b">数量</tspan><tspan x="1174" class="b">材料</tspan><tspan x="1228" class="b">备注</tspan></text>
<text y="811.5" style="font-size:5px"><tspan x="1200" class="b">单件</tspan><tspan x="1212" class="b">总计</tspan></text>
<text y="819.5"><tspan x="1206" class="b">重量</tspan></text>
</g>
<g transform="translate(1040 640) scale(.33333)">
<path class="w" d="M20 548H597M20 572H277M20 595H277M20 617H277M20 640H277M20 663H277M20 685H277M20 707H277M20 725V548M53 548V725M85 548V725M137 548V725M187 548V725M227 548V725M277 548V725M440 548V725M277 640H440M277 668H440M277 700H440M440 605H597M440 668H597M362 640V700M402 640V700M297 668V700M318 668V700M340 668V700M465 503V527H535V503M465 527H535"/>
<path d="M0 725H597" stroke="#ddd" stroke-width="4"/>
<text x="519" y="646" text-anchor="middle" textLength="155" lengthAdjust="spacingAndGlyphs" style="font:bold 24px 'Liberation Sans','WenQuanYi Zen Hei',sans-serif" fill="#fff">SHQ2300减速器总装配图</text>
<text x="519" y="709" text-anchor="middle" textLength="100" lengthAdjust="spacingAndGlyphs" style="font:28px 'Liberation Sans',sans-serif" fill="#fff">SHQ2300</text>
<g class="t" style="font-size:18px"><text x="35" y="635">标记</text><text x="68" y="635">处数</text><text x="110" y="635">分 区</text><text x="162" y="628">更改文件</text><text x="206" y="635">签名</text><text x="250" y="635">年月日</text><text x="37" y="657">设计</text><text x="165" y="657">标准化</text><text x="37" y="680">校核</text><text x="37" y="700">审核</text><text x="37" y="722">工艺</text><text x="165" y="722">批准</text><text x="318" y="662">图样标记</text><text x="380" y="662">重量</text><text x="420" y="662">比例</text><text x="355" y="722">共 张 第 张</text></g>
<text x="420" y="692" style="font:bold 20px 'Liberation Sans','WenQuanYi Zen Hei',sans-serif;fill:#0ff;text-anchor:middle">比</text>
</g>
</svg>
</body></html>
